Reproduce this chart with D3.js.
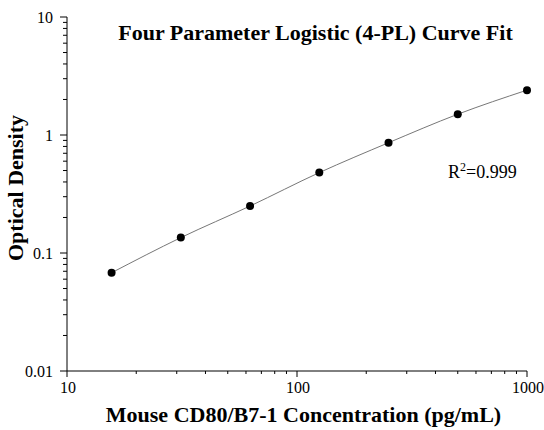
<!DOCTYPE html>
<html><head><meta charset="utf-8">
<script src="https://cdn.jsdelivr.net/npm/d3@7"></script>
<style>body{margin:0;background:#fff}svg{display:block;font-family:"Liberation Serif","Times New Roman",serif}</style>
</head><body><svg id="c" width="544" height="430"></svg>
<script>
const concentrations = [15.625, 31.25, 62.5, 125, 250, 500, 1000];
const odValues = [0.068, 0.135, 0.25, 0.48, 0.86, 1.5, 2.4];
const xTickValues = [10, 100, 1000];
const yTickValues = [0.01, 0.1, 1, 10];
const titleText = "Four Parameter Logistic (4-PL) Curve Fit";
const xLabel = "Mouse CD80/B7-1 Concentration (pg/mL)";
const yLabel = "Optical Density";

const svg = d3.select("#c");
const x = d3.scaleLog().domain([10, 1000]).range([67, 527]);
const y = d3.scaleLog().domain([0.01, 10]).range([371, 17]);

function minors(lo, hi) {
  const out = [];
  for (let d = lo; d < hi; d *= 10) for (let k = 2; k <= 9; k++) out.push(d * k);
  return out;
}

// y axis
const gy = svg.append("g").attr("transform", "translate(67,0)");
gy.append("line").attr("x1", 0).attr("x2", 0).attr("y1", y(10)).attr("y2", y(0.01)).attr("stroke", "#000");
gy.selectAll(".ymaj").data(yTickValues).join("line").attr("x1", -7).attr("x2", 0)
  .attr("y1", d => y(d)).attr("y2", d => y(d)).attr("stroke", "#000");
gy.selectAll(".ymin").data(minors(0.01, 10)).join("line").attr("x1", -4).attr("x2", 0)
  .attr("y1", d => y(d)).attr("y2", d => y(d)).attr("stroke", "#000");
gy.selectAll(".ylab").data(yTickValues).join("text").attr("x", -14).attr("y", d => y(d))
  .attr("dy", "0.35em").attr("text-anchor", "end").attr("font-size", 16).text(d => String(d));

// x axis
const gx = svg.append("g").attr("transform", "translate(0,371)");
gx.append("line").attr("x1", x(10)).attr("x2", x(1000)).attr("y1", 0).attr("y2", 0).attr("stroke", "#000");
gx.selectAll(".xmaj").data(xTickValues).join("line").attr("y1", 0).attr("y2", 6)
  .attr("x1", d => x(d)).attr("x2", d => x(d)).attr("stroke", "#000");
gx.selectAll(".xmin").data(minors(10, 1000)).join("line").attr("y1", 0).attr("y2", 3)
  .attr("x1", d => x(d)).attr("x2", d => x(d)).attr("stroke", "#000");
gx.selectAll(".xlab").data(xTickValues).join("text").attr("x", d => x(d) + 1).attr("y", 22)
  .attr("text-anchor", "middle").attr("font-size", 16).text(d => String(d));

// curve
const data = concentrations.map((c, i) => [c, odValues[i]]);
svg.append("path").datum(data)
  .attr("d", d3.line().x(d => x(d[0])).y(d => y(d[1])).curve(d3.curveMonotoneX))
  .attr("fill", "none").attr("stroke", "#777").attr("stroke-width", 1);
svg.selectAll(".pt").data(data).join("circle")
  .attr("cx", d => x(d[0])).attr("cy", d => y(d[1])).attr("r", 4).attr("fill", "#000");

// texts
svg.append("text").attr("x", 315.5).attr("y", 40).attr("text-anchor", "middle")
  .attr("font-size", 22).attr("font-weight", "bold").text(titleText);
const r2 = svg.append("text").attr("x", 448).attr("y", 178).attr("font-size", 18);
r2.append("tspan").text("R");
r2.append("tspan").attr("dy", -7).attr("font-size", 12).text("2");
r2.append("tspan").attr("dy", 7).text("=0.999");
svg.append("text").attr("x", 303.5).attr("y", 422).attr("text-anchor", "middle")
  .attr("font-size", 22).attr("font-weight", "bold").text(xLabel);
svg.append("text").attr("transform", "translate(23,188) rotate(-90)").attr("text-anchor", "middle")
  .attr("font-size", 22).attr("font-weight", "bold").text(yLabel);
</script></body></html>
